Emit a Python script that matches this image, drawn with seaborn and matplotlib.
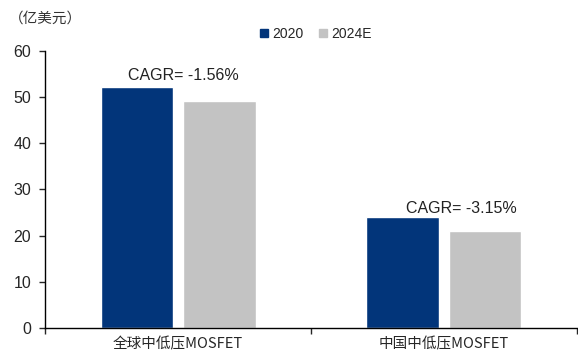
import matplotlib
matplotlib.use("Agg")
import matplotlib.pyplot as plt
import seaborn as sns
import pandas as pd
from matplotlib.lines import Line2D

categories = ["全球中低压MOSFET", "中国中低压MOSFET"]
years = ["2020", "2024E"]
values_2020 = [52.2, 24.0]
values_2024 = [49.2, 21.0]
cagr_labels = ["CAGR= -1.56%", "CAGR= -3.15%"]
unit_label = "（亿美元）"

df = pd.DataFrame({
    "category": categories * 2,
    "year": [years[0]] * 2 + [years[1]] * 2,
    "value": values_2020 + values_2024,
})

sns.set_theme(style="white")
plt.rcParams['font.family'] = ['Liberation Sans', 'Noto Sans CJK SC', 'DejaVu Sans']

colors = {"2020": "#02357A", "2024E": "#C3C3C3"}

fig = plt.figure(figsize=(5.78, 3.56), dpi=100)
ax = fig.add_axes([0.078, 0.079, 0.92, 0.778])
sns.barplot(data=df, x="category", y="value", hue="year", order=categories,
            hue_order=years, palette=colors, width=0.62, gap=0.12,
            saturation=1, ax=ax, legend=False)

ax.set_ylim(0, 60)
ax.set_xlim(-0.5, 1.5)
ax.set_yticks(range(0, 61, 10))
ax.tick_params(axis='y', labelsize=11.5, length=4, width=1, direction='out', left=True, pad=6)
ax.set_xticks([-0.5, 0.5, 1.5])
ax.set_xticklabels([])
ax.tick_params(axis='x', which='major', length=4, width=1, direction='out', bottom=True)
ax.set_xticks([0, 1], minor=True)
ax.set_xticklabels(categories, minor=True, fontsize=10.5, family=['Noto Sans CJK SC', 'DejaVu Sans'])
ax.tick_params(axis='x', which='minor', length=0, pad=7)
ax.set_xlabel("")
ax.set_ylabel("")
for s in ["top", "right"]:
    ax.spines[s].set_visible(False)
for s in ["left", "bottom"]:
    ax.spines[s].set_color("black")
    ax.spines[s].set_linewidth(1)

cagr_pos = [(0.02, 54.6), (1.065, 25.8)]
for (x, y), t in zip(cagr_pos, cagr_labels):
    ax.text(x, y, t, ha='center', va='center', fontsize=11.5, color='#222222')

fig.text(0.015, 0.948, unit_label, fontsize=10.5, color='#333333', ha='left', va='center',
         family=['Noto Sans CJK SC', 'DejaVu Sans'])

handles = [Line2D([0], [0], marker='s', linestyle='none', markersize=6,
                  markerfacecolor=colors[y], markeredgecolor=colors[y]) for y in years]
fig.legend(handles, years, loc='center', bbox_to_anchor=(0.545, 0.905), ncol=2,
           frameon=False, fontsize=10, handletextpad=0.2, columnspacing=1.0, handlelength=0.8)

fig.savefig("out.png", dpi=100)
